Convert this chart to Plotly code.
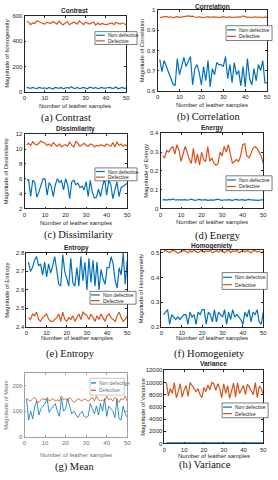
import plotly.graph_objects as go

W, H = 278, 480
samples = list(range(1, 51))

contrast_nd = [35, 30, 28, 35, 30, 25, 35, 30, 28, 32, 25, 35, 30, 22, 35, 30, 28, 35, 25, 30,
               35, 28, 40, 30, 28, 35, 25, 30, 35, 30, 25, 38, 30, 28, 35, 25, 30, 35, 28, 30,
               33, 35, 28, 30, 38, 25, 30, 35, 28, 30]
contrast_d = [555, 550, 530, 545, 540, 560, 555, 545, 540, 535, 550, 545, 540, 555, 545, 535, 560, 540, 530, 545,
              555, 530, 540, 550, 545, 535, 560, 545, 530, 550, 540, 535, 545, 550, 525, 545, 530, 540, 535, 530,
              535, 540, 545, 530, 550, 540, 535, 545, 540, 530]

correlation_nd = [0.755, 0.695, 0.75, 0.72, 0.69, 0.66, 0.635, 0.625, 0.76, 0.68, 0.72, 0.765, 0.72, 0.75, 0.77,
                  0.63, 0.71, 0.73, 0.69, 0.63, 0.72, 0.65, 0.75, 0.62, 0.71, 0.68, 0.74, 0.73, 0.73, 0.72,
                  0.77, 0.66, 0.73, 0.64, 0.74, 0.68, 0.70, 0.625, 0.72, 0.62, 0.76, 0.66, 0.63, 0.71, 0.65,
                  0.73, 0.70, 0.75, 0.64, 0.64]
correlation_d = [0.962, 0.963, 0.964, 0.968, 0.963, 0.966, 0.962, 0.965, 0.967, 0.963, 0.965, 0.964, 0.966, 0.970,
                 0.968, 0.969, 0.965, 0.963, 0.966, 0.964, 0.962, 0.965, 0.967, 0.963, 0.966, 0.964, 0.965, 0.962,
                 0.965, 0.967, 0.963, 0.964, 0.966, 0.962, 0.965, 0.963, 0.966, 0.964, 0.970, 0.967, 0.963, 0.965,
                 0.962, 0.966, 0.964, 0.963, 0.965, 0.962, 0.964, 0.963]

dissimilarity_nd = [5.8, 5.9, 3.6, 5.8, 5.5, 3.5, 4.2, 5.0, 6.0, 6.0, 3.8, 5.5, 5.0, 3.6, 5.2, 6.0, 5.5, 5.8, 4.5, 6.0,
                    5.2, 3.3, 5.6, 5.8, 5.2, 5.4, 4.8, 5.0, 4.5, 5.6, 3.6, 5.8, 4.2, 3.4, 3.5, 4.6, 3.6, 5.0, 6.0, 3.8,
                    5.8, 5.2, 3.3, 4.5, 5.6, 3.6, 4.8, 5.0, 5.2, 5.4]
dissimilarity_d = [10.6, 10.8, 10.5, 11.0, 10.7, 10.6, 10.8, 11.1, 10.9, 10.8, 10.5, 10.7, 10.4, 10.9, 10.6, 10.4, 10.7,
                   10.3, 10.5, 10.6, 10.4, 11.0, 10.5, 10.3, 11.1, 10.7, 10.4, 10.6, 10.8, 10.5, 10.4, 10.7, 10.6, 10.3,
                   10.5, 10.4, 10.6, 10.5, 10.4, 10.7, 10.5, 10.4, 10.9, 10.3, 11.0, 10.5, 10.7, 10.4, 10.6, 10.4]

energy_nd = [0.045, 0.047, 0.044, 0.048, 0.046, 0.050, 0.045, 0.044, 0.046, 0.043, 0.045, 0.047, 0.044, 0.046, 0.049,
             0.045, 0.043, 0.046, 0.048, 0.044, 0.045, 0.047, 0.043, 0.046, 0.045, 0.044, 0.047, 0.049, 0.045, 0.043,
             0.046, 0.044, 0.047, 0.045, 0.043, 0.046, 0.048, 0.044, 0.045, 0.047, 0.043, 0.046, 0.048, 0.045, 0.044,
             0.047, 0.045, 0.043, 0.046, 0.045]
energy_d = [0.28, 0.27, 0.31, 0.30, 0.32, 0.33, 0.29, 0.34, 0.31, 0.25, 0.29, 0.33, 0.30, 0.26, 0.24, 0.32, 0.24, 0.29,
            0.23, 0.30, 0.26, 0.25, 0.33, 0.25, 0.27, 0.24, 0.23, 0.24, 0.30, 0.28, 0.33, 0.30, 0.34, 0.29, 0.24, 0.25,
            0.26, 0.25, 0.28, 0.34, 0.345, 0.28, 0.27, 0.29, 0.32, 0.33, 0.32, 0.30, 0.28, 0.24]

entropy_nd = [2.75, 2.70, 2.72, 2.76, 2.78, 2.73, 2.74, 2.68, 2.75, 2.67, 2.74, 2.69, 2.73, 2.78, 2.71, 2.63, 2.62, 2.79,
              2.70, 2.66, 2.62, 2.77, 2.64, 2.62, 2.72, 2.62, 2.78, 2.65, 2.75, 2.60, 2.77, 2.64, 2.76, 2.62, 2.75, 2.60,
              2.71, 2.66, 2.63, 2.72, 2.72, 2.78, 2.74, 2.65, 2.61, 2.72, 2.68, 2.80, 2.63, 2.76]
entropy_d = [2.45, 2.44, 2.47, 2.46, 2.48, 2.44, 2.43, 2.45, 2.46, 2.47, 2.44, 2.43, 2.43, 2.44, 2.45, 2.47, 2.43, 2.48,
             2.44, 2.43, 2.45, 2.44, 2.46, 2.43, 2.45, 2.47, 2.44, 2.48, 2.47, 2.46, 2.44, 2.47, 2.45, 2.43, 2.46, 2.44,
             2.47, 2.45, 2.43, 2.46, 2.47, 2.45, 2.44, 2.43, 2.46, 2.48, 2.45, 2.43, 2.44, 2.46]

homogeneity_nd = [0.25, 0.26, 0.27, 0.21, 0.25, 0.24, 0.23, 0.24, 0.23, 0.24, 0.25, 0.25, 0.21, 0.26, 0.24, 0.25, 0.21,
                  0.26, 0.25, 0.27, 0.27, 0.21, 0.26, 0.25, 0.22, 0.27, 0.22, 0.26, 0.25, 0.24, 0.27, 0.21, 0.26, 0.23,
                  0.27, 0.24, 0.25, 0.24, 0.23, 0.21, 0.26, 0.24, 0.27, 0.22, 0.26, 0.25, 0.27, 0.22, 0.21, 0.26]
homogeneity_d = [0.505, 0.510, 0.505, 0.500, 0.508, 0.510, 0.505, 0.498, 0.502, 0.507, 0.510, 0.505, 0.500, 0.508, 0.503,
                 0.510, 0.505, 0.500, 0.507, 0.510, 0.502, 0.508, 0.505, 0.510, 0.500, 0.505, 0.509, 0.503, 0.510, 0.505,
                 0.500, 0.507, 0.510, 0.502, 0.508, 0.505, 0.510, 0.500, 0.506, 0.509, 0.503, 0.510, 0.505, 0.500, 0.508,
                 0.510, 0.503, 0.507, 0.500, 0.505]

mean_nd = [150, 65, 100, 70, 120, 140, 85, 110, 120, 130, 150, 95, 110, 120, 130, 100, 80, 150, 100, 110,
           150, 120, 90, 100, 85, 75, 90, 100, 80, 75, 80, 130, 110, 90, 120, 85, 130, 100, 150, 80,
           120, 110, 100, 75, 150, 70, 65, 120, 90, 75]
mean_d = [150, 145, 140, 150, 155, 140, 135, 145, 150, 145, 155, 140, 145, 150, 140, 145, 140, 160, 145, 150,
          140, 155, 145, 135, 140, 150, 145, 140, 150, 145, 140, 145, 155, 140, 160, 145, 140, 145, 140, 160,
          145, 150, 140, 155, 145, 135, 150, 145, 160, 140]

variance_nd = [90, 100, 80, 110, 95, 120, 85, 100, 90, 105, 95, 80, 110, 100, 90, 85, 105, 95, 100, 90,
               110, 85, 100, 95, 90, 105, 80, 100, 95, 110, 90, 100, 85, 105, 95, 90, 100, 110, 85, 95,
               100, 90, 105, 95, 80, 100, 90, 110, 95, 100]
variance_d = [10000, 7800, 9000, 8200, 10000, 7500, 8500, 9800, 7600, 8800, 9500, 7700, 10000, 9500, 9200, 8500, 9000,
              8000, 7500, 9200, 8500, 9600, 8800, 10000, 9800, 8700, 9800, 9000, 7500, 9800, 8200, 9500, 7400, 8800,
              9900, 7600, 10000, 8200, 9000, 9500, 8000, 9700, 9200, 8500, 8000, 10000, 7500, 9400, 9000, 8000]

legend_names = ["Non defective", "Defective"]
x_label = "Number of leather samples"

panels = [
    dict(title="Contrast", ylabel="Magnitude of homogeneity", caption="(a) Contrast",
         nd=contrast_nd, d=contrast_d, yr=[0, 600], dt=200,
         box=(23, 127, 13, 90), ty=8, ylx=5, xly=104, cap=(65, 116), leg=(95, 138, 29, 42)),
    dict(title="Correlation", ylabel="Magnitude of Correlation", caption="(b) Correlation",
         nd=correlation_nd, d=correlation_d, yr=[0.6, 1.0], dt=0.1,
         box=(159, 271, 7, 89), ty=4, ylx=144, xly=103, cap=(211, 115), leg=(229, 276, 23, 38)),
    dict(title="Dissimilarity", ylabel="Magnitude of Dissimilarity", caption="(c) Dissimilarity",
         nd=dissimilarity_nd, d=dissimilarity_d, yr=[2, 12], dt=2,
         box=(23, 128, 133, 208), ty=128, ylx=4, xly=223, cap=(79, 235), leg=(95, 138, 167, 180)),
    dict(title="Energy", ylabel="Magnitude of Energy", caption="(d) Energy",
         nd=energy_nd, d=energy_d, yr=[0, 0.4], dt=0.1,
         box=(162, 267, 132, 208), ty=127, ylx=147, xly=222, cap=(221, 236), leg=(229, 276, 175, 190)),
    dict(title="Entropy", ylabel="Magnitude of Entropy", caption="(e) Entropy",
         nd=entropy_nd, d=entropy_d, yr=[2.4, 2.8], dt=0.1,
         box=(25, 128, 253, 328), ty=248, ylx=5, xly=339, cap=(70, 355), leg=(90, 137, 292, 305)),
    dict(title="Homogeniety", ylabel="Magnitude of Homogeniety", caption="(f) Homogeniety",
         nd=homogeneity_nd, d=homogeneity_d, yr=[0.2, 0.512], dt=0.1,
         box=(163, 267, 250, 328), ty=246, ylx=142, xly=339, cap=(212, 355), leg=(225, 271, 273, 290)),
    dict(title=None, ylabel="Magnitude of Mean", caption="(g) Mean",
         nd=mean_nd, d=mean_d, yr=[0, 250], dt=100,
         box=(23, 128, 375, 439), ty=None, ylx=4, xly=458, cap=(75, 470), leg=(90, 125, 380, 397)),
    dict(title="Variance", ylabel="Magnitude of Variance", caption="(h) Variance",
         nd=variance_nd, d=variance_d, yr=[0, 12000], dt=2000,
         box=(166, 267, 372, 446), ty=365, ylx=144, xly=459, cap=(207, 468), leg=(225, 272, 405, 420)),
]

BLUE = "#0072BD"
ORANGE = "#D95319"
SANS = "Liberation Sans, Arial, sans-serif"
SERIF = "Liberation Serif, Times New Roman, serif"


def fx(x):
    return x / W


def fy(y):
    return 1 - y / H


fig = go.Figure()
shapes = []
annotations = []
layout_axes = {}

for i, p in enumerate(panels):
    n = i + 1
    sfx = "" if n == 1 else str(n)
    xa, ya = "x" + sfx, "y" + sfx
    light = p["title"] is None
    axc = "#a0a0a0" if light else "#262626"
    txc = "#707070" if light else "#262626"
    lw = 0.8 if light else 1.2
    for vals, col, nm in ((p["nd"], BLUE, legend_names[0]), (p["d"], ORANGE, legend_names[1])):
        fig.add_trace(go.Scatter(x=samples, y=vals, mode="lines", name=nm,
                                 line=dict(color=col, width=lw), xaxis=xa, yaxis=ya,
                                 showlegend=False, hoverinfo="skip"))
    l, r, t, b = p["box"]
    common = dict(showline=True, mirror="ticks", linecolor=axc, linewidth=0.8, ticks="inside",
                  ticklen=2, tickwidth=0.6, tickcolor=axc, showgrid=False, zeroline=False,
                  tickfont=dict(size=6, color=txc, family=SANS))
    layout_axes["xaxis" + sfx] = dict(domain=[fx(l), fx(r)], range=[0, 50], dtick=10, tick0=0,
                                      anchor=ya, **common)
    layout_axes["yaxis" + sfx] = dict(domain=[fy(b), fy(t)], range=p["yr"], dtick=p["dt"], tick0=0,
                                      anchor=xa, tickformat="~g" if p["dt"] < 1 else "d", **common)
    cx = (l + r) / 2
    cy = (t + b) / 2
    if p["title"]:
        annotations.append(dict(text="<b>%s</b>" % p["title"], x=fx(cx), y=fy(p["ty"]), xref="paper",
                                yref="paper", showarrow=False, xanchor="center", yanchor="middle",
                                font=dict(size=6.5, color="#262626", family=SANS)))
    annotations.append(dict(text=x_label, x=fx(cx), y=fy(p["xly"]), xref="paper", yref="paper",
                            showarrow=False, xanchor="center", yanchor="middle",
                            font=dict(size=6, color=txc, family=SANS)))
    annotations.append(dict(text=p["ylabel"], x=fx(p["ylx"]), y=fy(cy), xref="paper", yref="paper",
                            showarrow=False, xanchor="center", yanchor="middle", textangle=-90,
                            font=dict(size=5.8, color=txc, family=SANS)))
    annotations.append(dict(text=p["caption"], x=fx(p["cap"][0]), y=fy(p["cap"][1]), xref="paper",
                            yref="paper", showarrow=False, xanchor="center", yanchor="middle",
                            font=dict(size=10.5, color="#111111", family=SERIF)))
    # legend box
    ll, lr, lt, lb = p["leg"]
    shapes.append(dict(type="rect", xref="paper", yref="paper", x0=fx(ll), x1=fx(lr), y0=fy(lb), y1=fy(lt),
                       fillcolor="white", line=dict(color=axc, width=0.6), layer="above"))
    rows = [lt + (lb - lt) * 0.28, lt + (lb - lt) * 0.72]
    seg = 5 if light else 9
    for ry, col, nm in ((rows[0], BLUE, legend_names[0]), (rows[1], ORANGE, legend_names[1])):
        shapes.append(dict(type="line", xref="paper", yref="paper", x0=fx(ll + 1), x1=fx(ll + 1 + seg),
                           y0=fy(ry), y1=fy(ry), line=dict(color=col, width=1.2), layer="above"))
        annotations.append(dict(text=nm, x=fx(ll + 2 + seg), y=fy(ry), xref="paper", yref="paper",
                                showarrow=False, xanchor="left", yanchor="middle",
                                font=dict(size=5, color=txc, family=SANS)))

fig.update_layout(width=W, height=H, margin=dict(l=0, r=0, t=0, b=0), autosize=False,
                  paper_bgcolor="white", plot_bgcolor="white", showlegend=False,
                  shapes=shapes, annotations=annotations, **layout_axes)

fig.write_html("out.html", config={"displayModeBar": False},
               post_script="document.body.style.margin='0';document.body.style.overflow='hidden';")
